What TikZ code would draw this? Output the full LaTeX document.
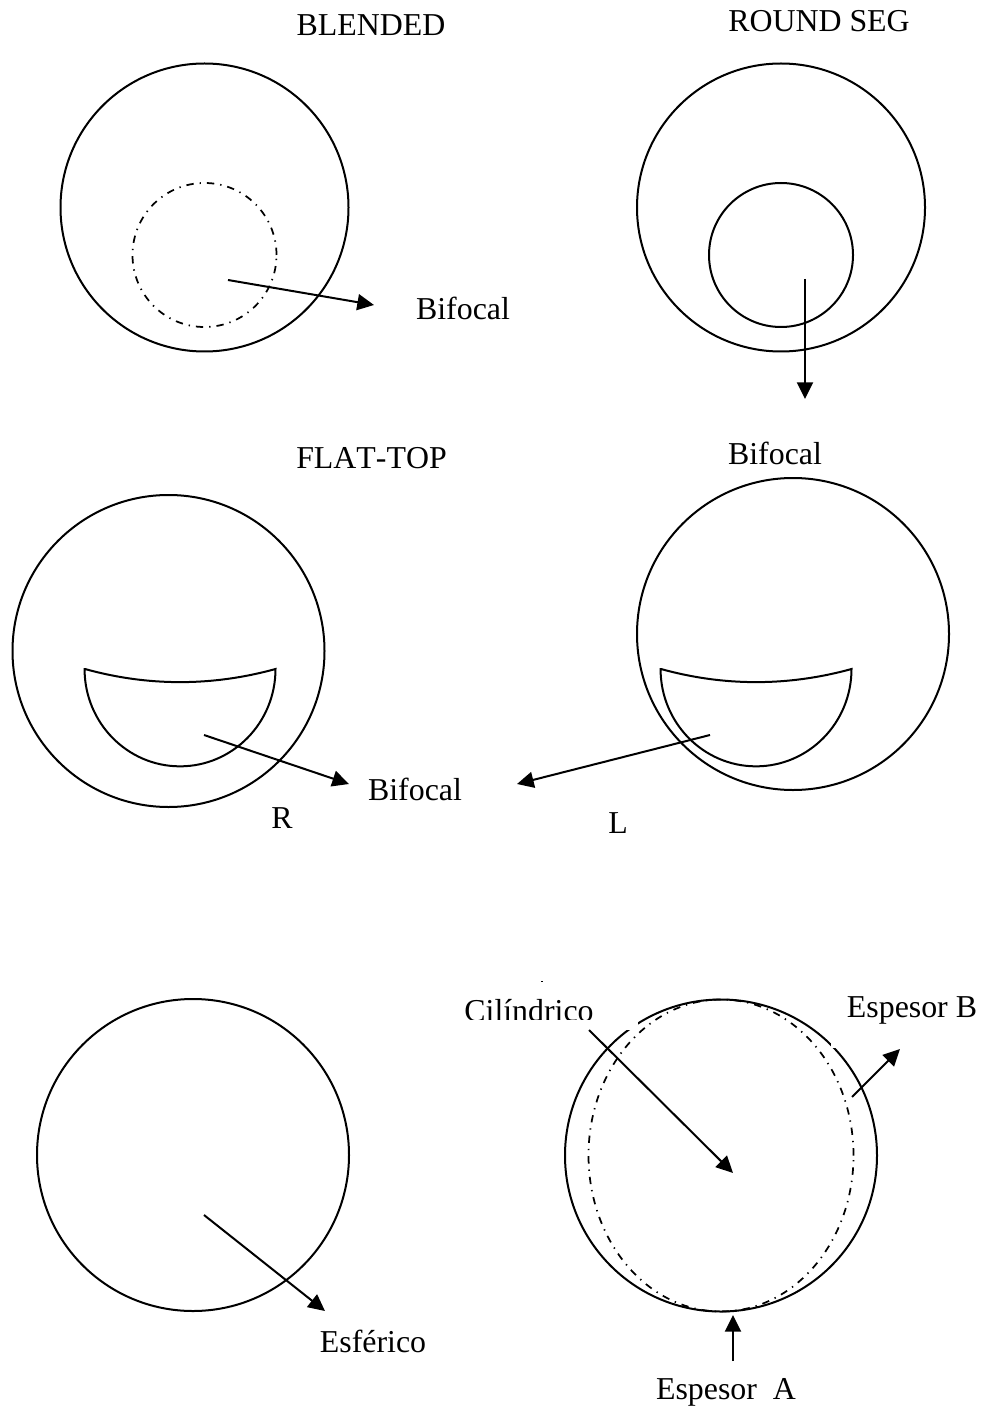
\documentclass[tikz,border=0pt]{standalone}
\usepackage{fontspec}
\setmainfont{Liberation Serif}
\usepackage{tikz}
\usetikzlibrary{shapes.geometric,arrows.meta}

\begin{document}
\begin{tikzpicture}[
    x=0.75pt, y=-0.75pt,
    lens/.style={circle, draw, line width=1.5pt, inner sep=0pt, outer sep=0pt, minimum size=216pt},
    biglens/.style={lens, minimum size=234pt},
    seglens/.style={lens, minimum size=108pt},
    blend/.style={seglens, line width=1.3pt, dash pattern=on 5.5pt off 4.5pt on 1pt off 4.5pt},
    cyl/.style={ellipse, draw, line width=1.3pt, inner sep=0pt, outer sep=0pt, minimum width=198.75pt, minimum height=234pt,
        dash pattern=on 5.5pt off 4.5pt on 1pt off 4.5pt},
    lbl/.style={anchor=base, inner sep=0pt, font=\fontsize{23.9}{28}\selectfont},
    seg/.style={line width=1.5pt, line join=miter},
    arr/.style={-{Triangle[length=12.5pt, width=12pt]}, line width=1.5pt}
]
    \useasboundingbox (0,0) rectangle (983,1408);

    % Blended
    \node[lbl] (tblended) at (371,36) {BLENDED};
    \node[lens] (blended) at (204.5,207.5) {};
    \node[blend] (blendedseg) at (204.5,255) {};
    \coordinate (b1) at (228,280);
    \coordinate (b2) at (374,305);
    \draw[arr] (b1) -- (b2);
    \node[lbl] (lblended) at (463,320) {Bifocal};

    % Round seg
    \node[lbl] (tround) at (819,32) {ROUND SEG};
    \node[lens] (round) at (781,207.5) {};
    \node[seglens] (roundseg) at (781,255) {};
    \coordinate (r1) at (805,279);
    \coordinate (r2) at (805,399);
    \draw[arr] (r1) -- (r2);
    \node[lbl] (lround) at (775,464) {Bifocal};

    % Flat-top
    \node[lbl] (tflat) at (371.5,468) {\addfontfeature{Kerning=Off}FLAT-TOP};
    \node[biglens] (flatR) at (168.5,651) {};
    \node[biglens] (flatL) at (793,634) {};
    \draw[seg] (85,669) .. controls (148,686.5) and (212,686.5) .. (275.5,669)
        arc[start angle=0, end angle=-180, x radius=71.6pt, y radius=73pt] -- cycle;
    \draw[seg] (661,669) .. controls (724,686.5) and (788,686.5) .. (851.5,669)
        arc[start angle=0, end angle=-180, x radius=71.6pt, y radius=73pt] -- cycle;
    \coordinate (f1) at (204,735);
    \coordinate (f2) at (349,784);
    \coordinate (f3) at (710,735);
    \coordinate (f4) at (517,784);
    \draw[arr] (f1) -- (f2);
    \draw[arr] (f3) -- (f4);
    \node[lbl] (lflat) at (415,800) {Bifocal};
    \node[lbl] (lR) at (282,828) {R};
    \node[lbl] (lL) at (618,833) {L};

    % Esferico
    \node[biglens] (esf) at (193,1155) {};
    \coordinate (e1) at (204,1215);
    \coordinate (e2) at (325,1311);
    \draw[arr] (e1) -- (e2);
    \node[lbl] (lesf) at (373,1352) {Esférico};

    % Cilindrico
    \node[biglens] (cil) at (721,1155.5) {};
    \node[cyl] (cilseg) at (721,1155.5) {};
    \node[lbl] (lcil) at (529,1021) {Cilíndrico};
    \fill[white] (460,1019.5) rectangle (638,1030);
    \fill[white] (830.5,1000) rectangle (983,1048);
    \fill (541,980.5) rectangle (542.5,981.5);
    \node[lbl] (lespb) at (912,1017) {Espesor B};
    \node[lbl] (lespa) at (726,1399) {Espesor\ \ A};
    \coordinate (c1) at (589,1030);
    \coordinate (c2) at (733,1173);
    \coordinate (c3) at (852,1097);
    \coordinate (c4) at (900,1049);
    \coordinate (c5) at (733,1361);
    \coordinate (c6) at (733,1315);
    \draw[arr] (c1) -- (c2);
    \draw[arr] (c3) -- (c4);
    \draw[arr] (c5) -- (c6);
\end{tikzpicture}
\end{document}
